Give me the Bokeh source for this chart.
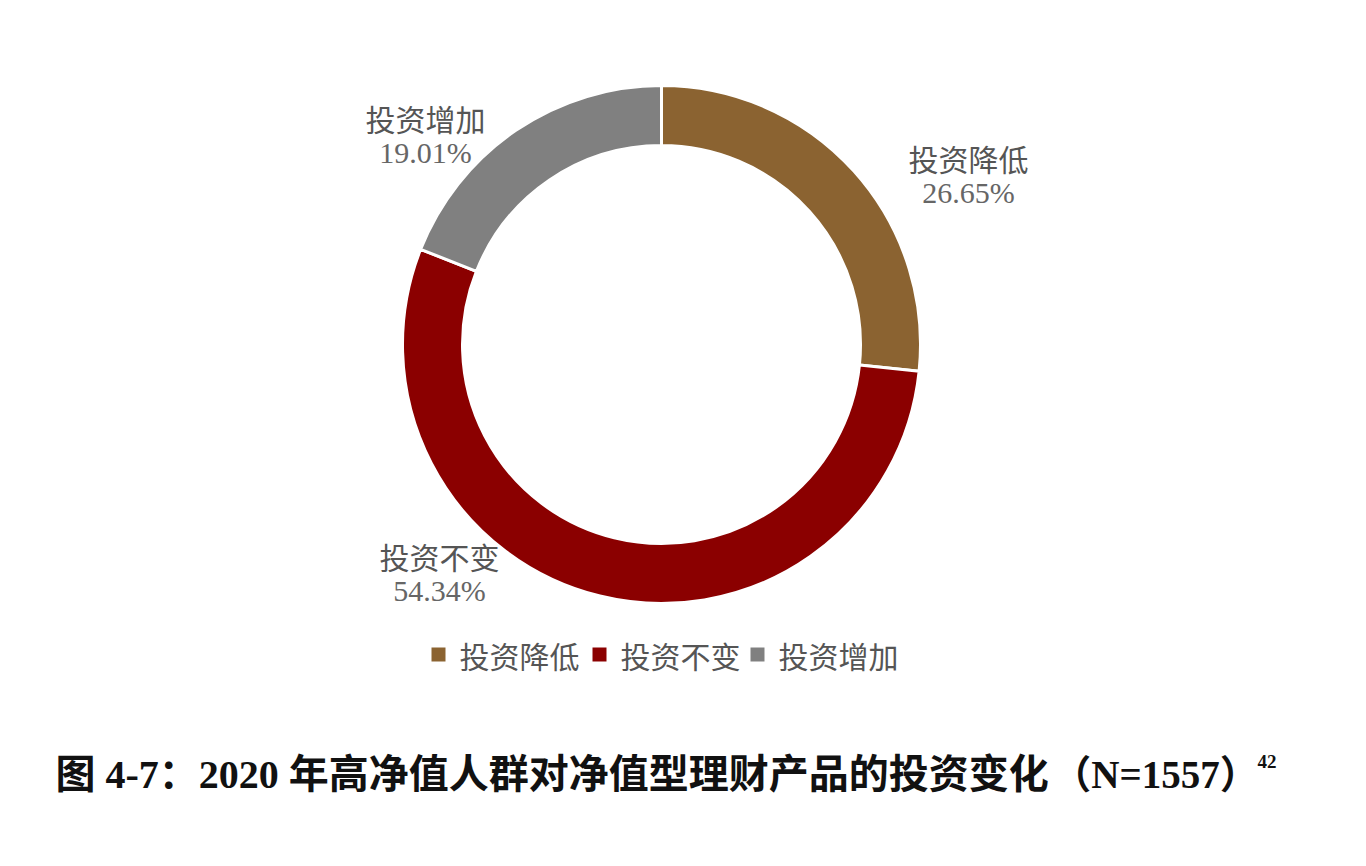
import math
from bokeh.plotting import figure
from bokeh.models import Range1d, ColumnDataSource
from bokeh.core.properties import value
from bokeh.embed import file_html
from bokeh.resources import INLINE

# ---- data ----
categories = ["投资降低", "投资不变", "投资增加"]
shares = [26.65, 54.34, 19.01]
colors = ["#8B6331", "#8B0000", "#808080"]
title_main = "图 4-7：2020 年高净值人群对净值型理财产品的投资变化"
title_n = "（N=1557）"
title_note = "42"

# ---- layout (screen-like coordinates: x right, y = -pixel row) ----
W, H = 1350, 850
cx, cy = 661, -344
r_in, r_out = 199, 259
label_xy = [(968, -157), (439, -555), (425, -117)]
pct_dy = -35
legend_sq_x = [438, 599, 757]
legend_y = -654

p = figure(width=W, height=H, output_backend="svg", toolbar_location=None,
           x_range=Range1d(0, W), y_range=Range1d(-H, 0),
           min_border=0, outline_line_color=None, background_fill_color="white",
           border_fill_color="white")
p.axis.visible = False
p.xgrid.visible = False
p.ygrid.visible = False

total = sum(shares)
starts, ends = [], []
acc = 0.0
for s in shares:
    starts.append(math.pi / 2 - 2 * math.pi * acc / total)
    acc += s
    ends.append(math.pi / 2 - 2 * math.pi * acc / total)

src = ColumnDataSource(dict(x=[cx] * 3, y=[cy] * 3, start=starts, end=ends,
                            color=colors, cat=categories))
p.annular_wedge(x="x", y="y", inner_radius=r_in, outer_radius=r_out,
                start_angle="start", end_angle="end", direction="clock",
                fill_color="color", line_color="white", line_width=3, source=src)

lab_src = ColumnDataSource(dict(
    x=[xy[0] for xy in label_xy], y=[xy[1] for xy in label_xy],
    y2=[xy[1] + pct_dy for xy in label_xy],
    name=categories, pct=["%.2f%%" % s for s in shares]))
p.text(x="x", y="y", text="name", source=lab_src, text_align="center",
       text_baseline="middle", text_font=value("Noto Sans CJK SC"),
       text_font_size="30px", text_color="#555555")
p.text(x="x", y="y2", text="pct", source=lab_src, text_align="center",
       text_baseline="middle", text_font=value("Liberation Serif"),
       text_font_size="30px", text_color="#666666")

# legend
leg_src = ColumnDataSource(dict(x=legend_sq_x, y=[legend_y] * 3,
                                tx=[v + 21 for v in legend_sq_x],
                                color=colors, name=categories))
p.rect(x="x", y="y", width=14, height=14, fill_color="color",
       line_color=None, source=leg_src)
p.text(x="tx", y="y", text="name", source=leg_src, text_align="left",
       text_baseline="middle", text_font=value("Noto Sans CJK SC"),
       text_font_size="30px", text_color="#555555")

# title
title_font = value("'Liberation Serif', 'Noto Sans CJK SC'")
p.text(x=[55], y=[-774], text=[title_main], text_align="left",
       text_baseline="middle", text_font=title_font,
       text_font_size="40px", text_font_style="bold", text_color="#111111")
p.text(x=[1155], y=[-774], text=[title_n], text_align="center",
       text_baseline="middle", text_font=title_font,
       text_font_size="39px", text_font_style="bold", text_color="#111111")
p.text(x=[1257], y=[-761], text=[title_note], text_align="left",
       text_baseline="middle", text_font=value("Liberation Serif"),
       text_font_size="19px", text_font_style="bold", text_color="#111111")

open("out.html", "w").write(file_html(p, INLINE))
